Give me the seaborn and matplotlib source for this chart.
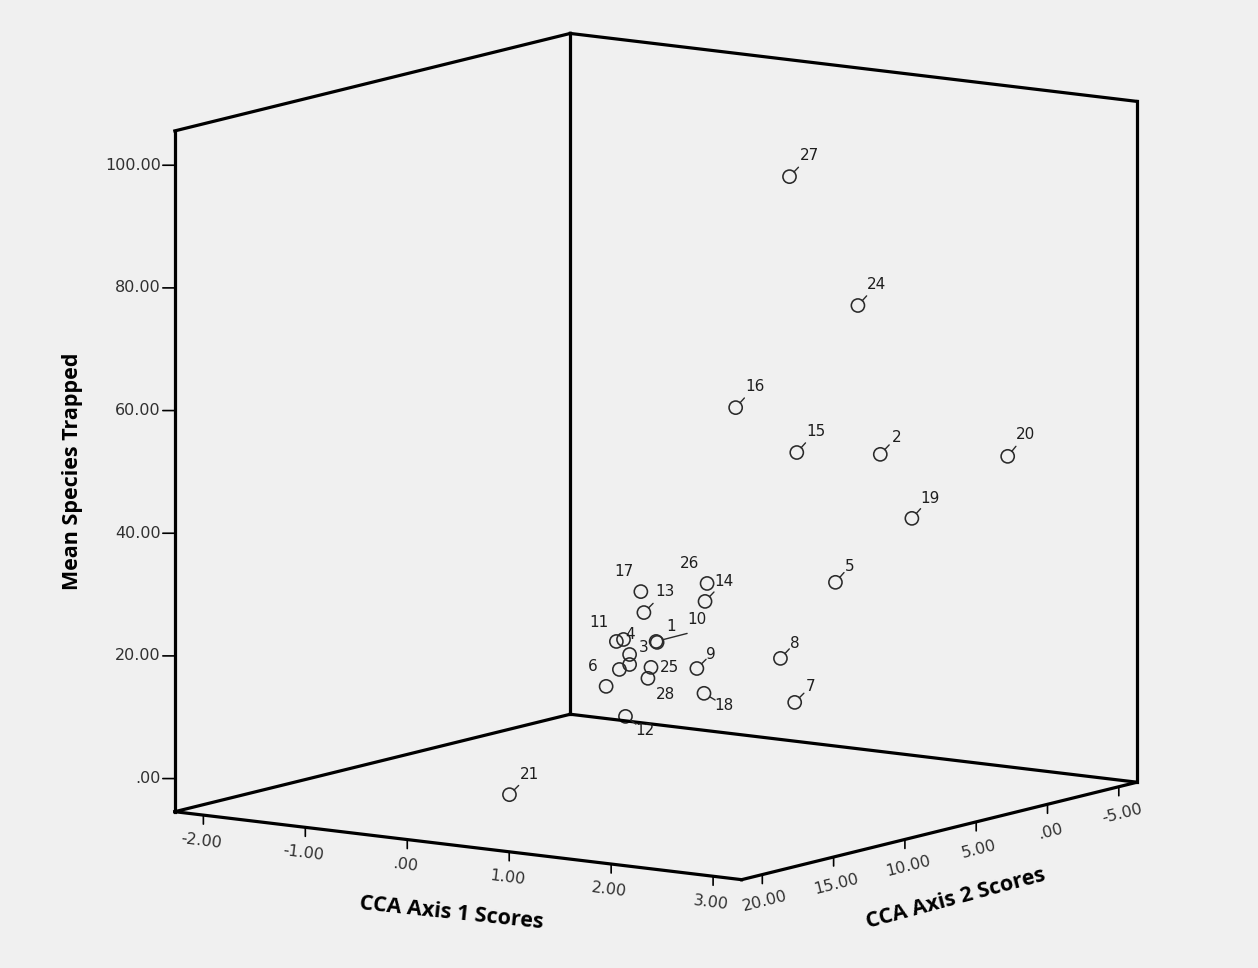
import numpy as np
import matplotlib
matplotlib.use("Agg")
import matplotlib.pyplot as plt
import seaborn as sns

# ---------------- data ----------------
point_ids = [1, 2, 3, 4, 5, 6, 7, 8, 9, 10, 11, 12, 13, 14,
             15, 16, 17, 18, 19, 20, 21, 22, 23, 24, 25, 26, 27, 28]
cca_axis1 = [0.01, 1.36, -0.12, -0.04, 1.06, -0.63, 0.94, 1.08, 0.40, 0.28,
             0.03, -0.58, 0.30, 0.62, 1.52, 1.34, 0.41, 0.33, 1.53, 2.19,
             0.38, -0.36, 0.02, 1.70, 0.09, 0.78, 2.05, -0.08]
cca_axis2 = [4.0, -2.0, 5.0, 6.0, -1.0, 3.0, 1.0, 3.0, 4.0, 6.0,
             7.0, 2.0, 7.0, 5.0, 5.0, 8.0, 8.0, 3.0, -3.0, -5.0,
             17.0, 4.0, 6.0, 2.0, 5.0, 6.0, 9.3, 4.0]
mean_species = [16.77, 46.68, 15.11, 18.29, 25.79, 7.75, 7.12, 15.72, 13.29, 18.61,
                18.68, 2.38, 23.93, 25.24, 51.31, 59.99, 28.14, 8.53, 36.01, 46.29,
                0.13, 11.62, 14.33, 73.92, 13.43, 29.06, 99.81, 10.73]
point_labels = ["1", "2", "3", "4", "5", "6", "7", "8", "9", "10", "11", "12", "13", "14",
                "15", "16", "17", "18", "19", "20", "21", "", "", "24", "25", "26", "27", "28"]

x_ticks = [-2, -1, 0, 1, 2, 3]
x_tick_labels = ["-2.00", "-1.00", ".00", "1.00", "2.00", "3.00"]
y_ticks = [20, 15, 10, 5, 0, -5]
y_tick_labels = ["20.00", "15.00", "10.00", "5.00", ".00", "-5.00"]
z_ticks = [0, 20, 40, 60, 80, 100]
z_tick_labels = [".00", "20.00", "40.00", "60.00", "80.00", "100.00"]

x_title = "CCA Axis 1 Scores"
y_title = "CCA Axis 2 Scores"
z_title = "Mean Species Trapped"

x_lim = (-2.28, 3.28)
y_lim = (21.45, -6.28)   # reversed axis, as in the original
z_lim = (-5.4, 105.6)

# ---------------- layout (label placement, in pixels) ----------------
label_offsets = {
    1: (14, -16), 2: (16, -17), 3: (14, -7), 4: (7, -5), 5: (14, -16),
    6: (-13, -20), 7: (16, -16), 8: (14, -15), 9: (14, -14), 10: (41, -22),
    11: (-17, -19), 12: (19, 14), 13: (21, -21), 14: (19, -20), 15: (19, -21),
    16: (19, -21), 17: (-17, -20), 18: (20, 12), 19: (18, -20), 20: (18, -22),
    21: (20, -20), 24: (19, -21), 25: (18, 0), 26: (-18, -20), 27: (20, -21),
    28: (18, 16),
}
leader_ids = {2, 5, 7, 8, 9, 10, 12, 13, 14, 15, 16, 18, 19, 20, 21, 24, 27}
leader_custom_end = {10: (31, -8)}

# ---------------- style ----------------
sns.set_theme(style="white")
plt.rcParams["font.family"] = ["DejaVu Sans"]
BG = "#f0f0f0"
INK = "#1e1e1e"

fig = plt.figure(figsize=(12.58, 9.68), dpi=100, facecolor=BG)
ax = fig.add_axes([0.0724, -0.0552, 0.8744, 1.1364], projection="3d", proj_type="ortho")
ax.set_axis_off()
ax.set_facecolor(BG)
ax.view_init(elev=9.9, azim=-55.1)
ax.set_box_aspect((1, 1, 1), zoom=1.0564)

ax.scatter(cca_axis1, cca_axis2, mean_species, s=90, facecolors="none",
           edgecolors="#2a2a2a", linewidths=1.15, depthshade=False)

x0, x1 = x_lim
y0, y1 = y_lim
z0, z1 = z_lim
edges = [
    ((x0, x0), (y0, y0), (z0, z1)),
    ((x0, x0), (y1, y1), (z0, z1)),
    ((x1, x1), (y1, y1), (z0, z1)),
    ((x0, x0), (y0, y1), (z1, z1)),
    ((x0, x1), (y1, y1), (z1, z1)),
    ((x0, x1), (y0, y0), (z0, z0)),
    ((x1, x1), (y0, y1), (z0, z0)),
    ((x0, x0), (y0, y1), (z0, z0)),
    ((x0, x1), (y1, y1), (z0, z0)),
]
for ex, ey, ez in edges:
    ax.plot(ex, ey, ez, color="black", lw=2.3, solid_capstyle="projecting", clip_on=False)

ax.set_xlim(x_lim)
ax.set_ylim(y_lim)
ax.set_zlim(z_lim)

M = ax.get_proj()


def proj(x, y, z):
    v = M @ np.array([x, y, z, 1.0])
    return v[0] / v[3], v[1] / v[3]


def tick_line(pt, off):
    ax.annotate("", xy=pt, xytext=off, textcoords="offset pixels",
                arrowprops=dict(arrowstyle="-", lw=1.2, color="black",
                                shrinkA=0, shrinkB=0))


tick_font = dict(fontsize=11.5, color="#303030", family="DejaVu Sans")

# x axis ticks (front-left bottom edge)
for t, lab in zip(x_ticks, x_tick_labels):
    p = proj(t, y0, z0)
    tick_line(p, (0, -9))
    ax.annotate(lab, xy=p, xytext=(-2, -26), textcoords="offset pixels",
                ha="center", va="center", rotation=-7, **tick_font)

# y axis ticks (front-right bottom edge)
for t, lab in zip(y_ticks, y_tick_labels):
    p = proj(x1, t, z0)
    tick_line(p, (0, -9))
    ax.annotate(lab, xy=p, xytext=(3, -27), textcoords="offset pixels",
                ha="center", va="center", rotation=14, **tick_font)

# z axis ticks (left vertical edge)
for t, lab in zip(z_ticks, z_tick_labels):
    p = proj(x0, y0, t)
    tick_line(p, (-12, 0))
    ax.annotate(lab, xy=p, xytext=(-14, 0), textcoords="offset pixels",
                ha="right", va="center", **tick_font)

title_font = dict(fontsize=15.5, fontweight="bold", color="black",
                  family=["Open Sans", "DejaVu Sans"])
ax.annotate(x_title, xy=proj((x0 + x1) / 2, y0, z0), xytext=(-7, -68),
            textcoords="offset pixels", ha="center", va="center", rotation=-6, **title_font)
ax.annotate(y_title, xy=proj(x1, (y0 + y1) / 2, z0), xytext=(16, -68),
            textcoords="offset pixels", ha="center", va="center", rotation=15, **title_font)
ax.annotate(z_title, xy=proj(x0, y0, (z0 + z1) / 2), xytext=(-102, 0),
            textcoords="offset pixels", ha="center", va="center", rotation=90, **title_font)

# point labels with short leader lines
for pid, xv, yv, zv, lab in zip(point_ids, cca_axis1, cca_axis2, mean_species, point_labels):
    if not lab:
        continue
    p = proj(xv, yv, zv)
    dx, dy = label_offsets[pid]
    ax.annotate(lab, xy=p, xytext=(dx, -dy), textcoords="offset pixels",
                ha="center", va="center", fontsize=11, color=INK)
    if pid in leader_ids:
        if pid in leader_custom_end:
            ex, ey = leader_custom_end[pid]
        else:
            n = np.hypot(dx, dy)
            ex, ey = 13 * dx / n, 13 * dy / n
        ax.annotate("", xy=p, xytext=(ex, -ey), textcoords="offset pixels",
                    arrowprops=dict(arrowstyle="-", lw=1.0, color="#2a2a2a",
                                    shrinkA=0, shrinkB=4.6))

fig.savefig("out.png", dpi=100, facecolor=BG)
